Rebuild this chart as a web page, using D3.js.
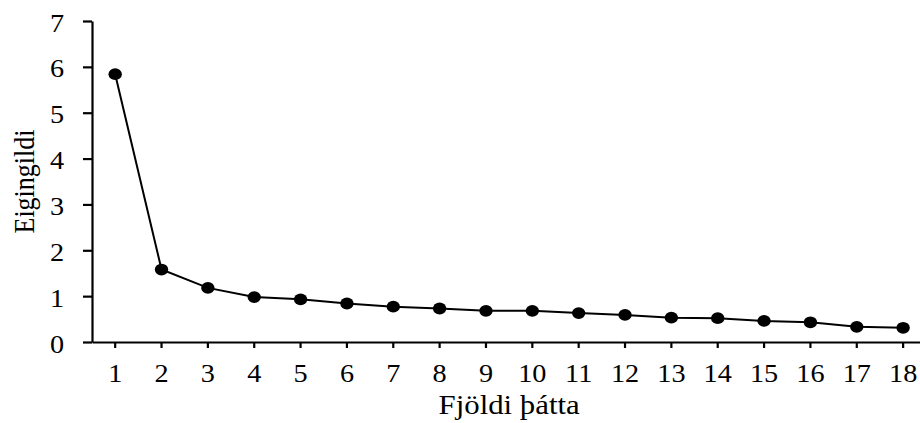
<!DOCTYPE html>
<html><head><meta charset="utf-8">
<script src="https://cdn.jsdelivr.net/npm/d3@7"></script>
<style>body{margin:0;background:#fff}svg{display:block}</style>
</head><body>
<svg id="c" width="920" height="423"></svg>
<script>
const factors = [1,2,3,4,5,6,7,8,9,10,11,12,13,14,15,16,17,18];
const eigenvalues = [5.84,1.58,1.18,0.98,0.93,0.84,0.77,0.73,0.68,0.68,0.63,0.59,0.53,0.52,0.46,0.43,0.33,0.31];
const yTicks = [0,1,2,3,4,5,6,7];
const xTitle = "Fjöldi þátta";
const yTitle = "Eigingildi";

(function(){
const svg = d3.select("#c");
const font = "Liberation Serif, Times New Roman, serif";
const fs = 25, sx = 1.13;
const mL = 92, mR = 926.3, mT = 21, mB = 342;
const x = d3.scaleBand().domain(factors).range([mL, mR]);
const y = d3.scaleLinear().domain([0,7]).range([mB, mT]);

const yAxis = svg.append("g").attr("transform",`translate(${mL},0)`)
  .call(d3.axisLeft(y).tickValues(yTicks).tickFormat(d3.format("d")).tickSize(9).tickPadding(19).tickSizeOuter(0));
const xAxis = svg.append("g").attr("transform",`translate(0,${mB})`)
  .call(d3.axisBottom(x).tickSize(6).tickPadding(14).tickSizeOuter(0));
[yAxis,xAxis].forEach(g=>{
  g.attr("font-family",font).attr("font-size",fs);
  g.selectAll("path,line").attr("stroke","#000").attr("stroke-width",2.2);
  g.selectAll("text").attr("fill","#000").style("font-family",font).style("font-size",fs+"px")
    .attr("x",0).attr("y",0).attr("dy",null);
});
yAxis.selectAll("text").attr("transform",`translate(-28,10) scale(${sx},1)`);
xAxis.selectAll("text").attr("transform",`translate(0,40) scale(${sx},1)`);

const line = d3.line().x((d,i)=>x(factors[i])+x.bandwidth()/2).y(d=>y(d));
svg.append("path").datum(eigenvalues).attr("d",line).attr("fill","none")
  .attr("stroke","#000").attr("stroke-width",2);
svg.selectAll("ellipse.pt").data(eigenvalues).join("ellipse").attr("class","pt")
  .attr("cx",(d,i)=>x(factors[i])+x.bandwidth()/2).attr("cy",d=>y(d))
  .attr("rx",6.7).attr("ry",5.9).attr("fill","#000");

svg.append("text").attr("transform",`translate(${(mL+mR)/2},414) scale(1.1,1)`).attr("text-anchor","middle")
  .style("font-family",font).style("font-size","28px").text(xTitle);
svg.append("text").attr("transform",`translate(34,${(mT+mB)/2}) scale(1.1,1) rotate(-90)`)
  .attr("text-anchor","middle").style("font-family",font).style("font-size","26px").text(yTitle);
})();
</script>
</body></html>
